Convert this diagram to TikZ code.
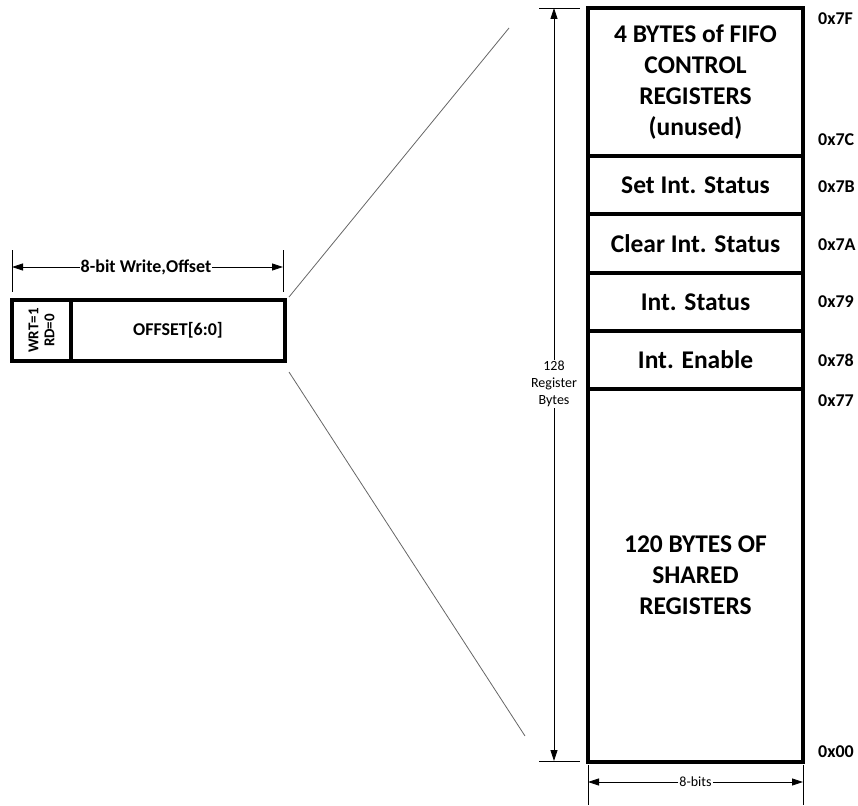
\documentclass[tikz,border=0pt]{standalone}
\usepackage{fontspec}
\setmainfont{Carlito}
\usetikzlibrary{arrows.meta}
\begin{document}
\begin{tikzpicture}[x=1pt,y=-1pt,
  cell/.style={draw, line width=3.3pt, rectangle, anchor=north west, outer sep=0pt,
    minimum width=215pt, inner sep=0pt, align=center,
    font=\bfseries\fontsize{25.5}{31}\selectfont},
  bitbox/.style={draw, line width=3.3pt, rectangle, outer sep=0pt, inner sep=0pt,
    align=center, minimum height=61pt},
  addr/.style={anchor=west, inner sep=0pt, font=\bfseries\fontsize{18}{20}\selectfont},
  extline/.style={line width=0.7pt},
  dimarrow/.style={line width=0.8pt, -{Triangle[length=11pt,width=7pt]}},
  zoomline/.style={line width=0.8pt, draw=black!60},
  dimlabel/.style={inner sep=1pt, align=center, font=\fontsize{14}{17}\selectfont}
]
\useasboundingbox (0,0) rectangle (858,805);

% register map column
\node[cell, minimum height=148pt] (fifo)   at (588,8)   {4 BYTES of FIFO\\CONTROL\\REGISTERS\\(unused)};
\node[cell, minimum height=58pt]  (setst)  at (588,156) {Set Int. Status};
\node[cell, minimum height=59pt]  (clrst)  at (588,214) {Clear Int. Status};
\node[cell, minimum height=58pt]  (intst)  at (588,273) {Int. Status};
\node[cell, minimum height=58pt]  (inten)  at (588,331) {Int. Enable};
\node[cell, minimum height=373pt] (shared) at (588,389) {120 BYTES OF\\SHARED\\REGISTERS};

% addresses
\node[addr] (a7f) at (818,19)  {0x7F};
\node[addr] (a7c) at (818,140) {0x7C};
\node[addr] (a7b) at (818,187) {0x7B};
\node[addr] (a7a) at (818,245) {0x7A};
\node[addr] (a79) at (818,302) {0x79};
\node[addr] (a78) at (818,360) {0x78};
\node[addr] (a77) at (818,401) {0x77};
\node[addr] (a00) at (818,752) {0x00};

% 128 register bytes dimension
\coordinate (dimtop) at (554,8);
\coordinate (dimbot) at (554,761);
\draw[extline] (539,8) -- (580,8);
\draw[extline] (539,761) -- (580,761);
\node[dimlabel] (bytes) at (554,384) {128\\Register\\Bytes};
\draw[dimarrow] (bytes.north) -- (dimtop);
\draw[dimarrow] (bytes.south) -- (dimbot);

% 8-bits dimension
\draw[extline] (588,765) -- (588,805);
\draw[extline] (803,765) -- (803,805);
\coordinate (bl) at (588,782);
\coordinate (br) at (803,782);
\node[dimlabel] (bits) at (695.5,782) {8-bits};
\draw[dimarrow] (bits.west) -- (bl);
\draw[dimarrow] (bits.east) -- (br);

% write/offset byte
\node[bitbox, rotate=90, minimum width=61pt, minimum height=59pt,
      font=\bfseries\fontsize{15}{16}\selectfont] (wrt) at (41.5,330.5) {WRT=1\\RD=0};
\node[bitbox, minimum width=214pt,
      font=\bfseries\fontsize{18}{22}\selectfont] (offset) at (178,330.5) {OFFSET[6:0]};

% 8-bit write, offset dimension
\draw[extline] (12,250) -- (12,292);
\draw[extline] (283,250) -- (283,292);
\coordinate (wl) at (12,267);
\coordinate (wr) at (283,267);
\node[dimlabel, font=\bfseries\fontsize{18}{22}\selectfont] (wlabel) at (146,267) {8-bit Write,Offset};
\draw[dimarrow] (wlabel.west) -- (wl);
\draw[dimarrow] (wlabel.east) -- (wr);

% zoom lines
\coordinate (za) at (289,297);
\coordinate (zb) at (509,28);
\coordinate (zc) at (289,372);
\coordinate (zd) at (525,736);
\draw[zoomline] (za) -- (zb);
\draw[zoomline] (zc) -- (zd);
\end{tikzpicture}
\end{document}
